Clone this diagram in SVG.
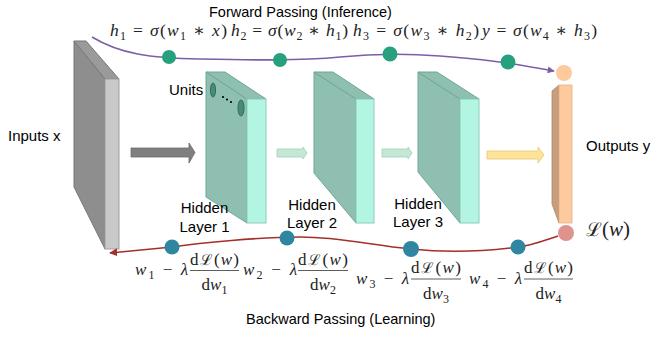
<svg xmlns="http://www.w3.org/2000/svg" width="652" height="337" viewBox="0 0 652 337">
<defs>
<marker id="arrP" viewBox="0 0 10 10" refX="9" refY="5" markerWidth="7" markerHeight="7" orient="auto" markerUnits="userSpaceOnUse"><path d="M0,0 L10,5 L0,10 z" fill="#7a5fa6"/></marker>
<marker id="arrR" viewBox="0 0 10 10" refX="9" refY="5" markerWidth="8" markerHeight="8" orient="auto" markerUnits="userSpaceOnUse"><path d="M0,0 L10,5 L0,10 z" fill="#a5302a"/></marker>
</defs>
<style>
.lbl{font-family:"Liberation Sans",Arial,sans-serif;font-size:15px;fill:#000}
.ttl{font-family:"Liberation Sans",Arial,sans-serif;font-size:14.5px;fill:#000}
.m{font-family:"Liberation Serif","DejaVu Serif",serif;font-size:17.5px;fill:#222}
.mb{font-family:"Liberation Serif","DejaVu Serif",serif;font-size:17px;fill:#222}
.i{font-style:italic}
.sub{font-size:12px}
.hs{fill:#8fbfb0;stroke:#6fa898;stroke-width:1}
.hf{fill:#b3f5e3;stroke:#8fc9b8;stroke-width:1}
.gc{fill:#27a07d}
.bc{fill:#2e86a0}
.fr{stroke:#333;stroke-width:0.8}
</style>

<g id="input-layer">
<polygon points="74,41 105,79 105,249 74,187" fill="#8e8e8e" stroke="#777" stroke-width="1"/>
<polygon points="74,41 86,41 119,79 105,79" fill="#9a9a9a" stroke="#777" stroke-width="1"/>
<rect x="105" y="79" width="14" height="170" fill="#c9c9c9" stroke="#a0a0a0" stroke-width="1"/>
<text class="lbl" x="8" y="141">Inputs x</text>
</g>

<g id="hidden-layer-1">
<polygon class="hs" points="206,72 247,99 247,223 206,197"/>
<polygon class="hs" points="206,72 225,72 266,99 247,99"/>
<rect class="hf" x="247" y="99" width="19" height="124"/>
<ellipse cx="213" cy="90" rx="2.6" ry="7" fill="#4a8a78" stroke="#2f6e5c" stroke-width="1"/>
<ellipse cx="241" cy="108" rx="3" ry="8" fill="#4a8a78" stroke="#2f6e5c" stroke-width="1"/>
<circle cx="223" cy="97" r="1.1" fill="#000"/>
<circle cx="227" cy="99.5" r="1.1" fill="#000"/>
<circle cx="231" cy="102" r="1.1" fill="#000"/>
<text class="lbl" x="169" y="95">Units</text>
<text class="lbl" x="204.5" y="213" text-anchor="middle">Hidden</text>
<text class="lbl" x="204.5" y="232" text-anchor="middle">Layer 1</text>
</g>

<g id="hidden-layer-2">
<polygon class="hs" points="314,72 356,99 356,223 314,173"/>
<polygon class="hs" points="314,72 333,72 374,99 356,99"/>
<rect class="hf" x="356" y="99" width="18" height="124"/>
<text class="lbl" x="312" y="210" text-anchor="middle">Hidden</text>
<text class="lbl" x="312" y="228" text-anchor="middle">Layer 2</text>
</g>

<g id="hidden-layer-3">
<polygon class="hs" points="418,72 460,99 460,223 418,172"/>
<polygon class="hs" points="418,72 437,72 479,99 460,99"/>
<rect class="hf" x="460" y="99" width="19" height="124"/>
<text class="lbl" x="418" y="209" text-anchor="middle">Hidden</text>
<text class="lbl" x="418" y="227" text-anchor="middle">Layer 3</text>
</g>

<g id="output-layer">
<polygon points="552,91 559,85 559,223 552,204" fill="#c89f7d" stroke="#b08868" stroke-width="0.8"/>
<rect x="559" y="85" width="13" height="138" fill="#fdca9e" stroke="#e0b08a" stroke-width="0.8"/>
<circle cx="564" cy="73" r="8" fill="#fdca9e"/>
<circle cx="566" cy="233" r="8" fill="#e0938c"/>
<text class="lbl" x="586" y="151">Outputs y</text>
<text class="m" x="586" y="236" style="font-size:21px"><tspan style="font-family:'DejaVu Serif',serif;font-size:19px">ℒ</tspan>(<tspan class="i">w</tspan>)</text>
</g>

<g id="connectors">
<polygon points="131,148 189,148 189,143 195,152.5 189,163 189,157 131,157" fill="#7f7f7f" stroke="#6d6d6d" stroke-width="0.8"/>
<polygon points="277,149 303,149 303,147 307,153 303,159 303,157 277,157" fill="#c5e8d6" stroke="#9fd2b8" stroke-width="0.8"/>
<polygon points="382,149 408,149 408,147 412,153 408,159 408,157 382,157" fill="#c5e8d6" stroke="#9fd2b8" stroke-width="0.8"/>
<polygon points="487,151 538,151 538,147 544,155 538,163 538,159 487,159" fill="#fde49a" stroke="#e8c870" stroke-width="0.8"/>
<path d="M92,37 C120,54 150,58 200,59 C250,60 300,61 340,57 C370,54 400,53 440,56 C480,59 505,62 554,71" fill="none" stroke="#7a5fa6" stroke-width="1.6" marker-end="url(#arrP)"/>
<path d="M558,236 C540,242 530,246 518,247 C480,252 440,252 411,249 C370,245 340,237 300,237 C260,237 200,243 172,247 L110,253" fill="none" stroke="#a5302a" stroke-width="1.6" marker-end="url(#arrR)"/>
<circle class="gc" cx="169" cy="57" r="7"/>
<circle class="gc" cx="280" cy="60" r="7"/>
<circle class="gc" cx="390" cy="54" r="7.5"/>
<circle class="gc" cx="508" cy="62" r="7.5"/>
<circle class="bc" cx="172" cy="247" r="7.5"/>
<circle class="bc" cx="287" cy="238" r="7.5"/>
<circle class="bc" cx="411" cy="249" r="8"/>
<circle class="bc" cx="518" cy="247" r="7.5"/>
</g>

<g id="forward-labels">
<text class="ttl" x="209" y="16.5">Forward Passing (Inference)</text>
<text class="m" x="110" y="36" textLength="117" lengthAdjust="spacing"><tspan class="i">h</tspan><tspan class="sub" dy="4">1</tspan><tspan dy="-4"> = </tspan><tspan class="i">σ</tspan>(<tspan class="i">w</tspan><tspan class="sub" dy="4">1</tspan><tspan dy="-4"> ∗ </tspan><tspan class="i">x</tspan>)</text>
<text class="m" x="231" y="36" textLength="117" lengthAdjust="spacing"><tspan class="i">h</tspan><tspan class="sub" dy="4">2</tspan><tspan dy="-4"> = </tspan><tspan class="i">σ</tspan>(<tspan class="i">w</tspan><tspan class="sub" dy="4">2</tspan><tspan dy="-4"> ∗ </tspan><tspan class="i">h</tspan><tspan class="sub" dy="4">1</tspan><tspan dy="-4">)</tspan></text>
<text class="m" x="353" y="36" textLength="126" lengthAdjust="spacing"><tspan class="i">h</tspan><tspan class="sub" dy="4">3</tspan><tspan dy="-4"> = </tspan><tspan class="i">σ</tspan>(<tspan class="i">w</tspan><tspan class="sub" dy="4">3</tspan><tspan dy="-4"> ∗ </tspan><tspan class="i">h</tspan><tspan class="sub" dy="4">2</tspan><tspan dy="-4">)</tspan></text>
<text class="m" x="482" y="36" textLength="115" lengthAdjust="spacing"><tspan class="i">y</tspan> = <tspan class="i">σ</tspan>(<tspan class="i">w</tspan><tspan class="sub" dy="4">4</tspan><tspan dy="-4"> ∗ </tspan><tspan class="i">h</tspan><tspan class="sub" dy="4">3</tspan><tspan dy="-4">)</tspan></text>
</g>

<g id="backward-labels">
<text class="ttl" x="246" y="324">Backward Passing (Learning)</text>
<text class="mb" x="135" y="275" textLength="53" lengthAdjust="spacing"><tspan class="i">w</tspan><tspan class="sub" dy="4">1</tspan><tspan dy="-4"> − </tspan><tspan class="i">λ</tspan></text>
<text class="mb" x="190" y="265" textLength="49" lengthAdjust="spacing">d<tspan style="font-family:'DejaVu Serif',serif;font-size:15px">ℒ</tspan>(<tspan class="i">w</tspan>)</text>
<line class="fr" x1="190" y1="270.5" x2="239" y2="270.5"/>
<text class="mb" x="214.5" y="290" text-anchor="middle">d<tspan class="i">w</tspan><tspan class="sub" dy="4">1</tspan></text>

<text class="mb" x="243" y="275" textLength="54" lengthAdjust="spacing"><tspan class="i">w</tspan><tspan class="sub" dy="4">2</tspan><tspan dy="-4"> − </tspan><tspan class="i">λ</tspan></text>
<text class="mb" x="298" y="265" textLength="50" lengthAdjust="spacing">d<tspan style="font-family:'DejaVu Serif',serif;font-size:15px">ℒ</tspan>(<tspan class="i">w</tspan>)</text>
<line class="fr" x1="298" y1="270.5" x2="348" y2="270.5"/>
<text class="mb" x="323" y="290" text-anchor="middle">d<tspan class="i">w</tspan><tspan class="sub" dy="4">2</tspan></text>

<text class="mb" x="356" y="284" textLength="53" lengthAdjust="spacing"><tspan class="i">w</tspan><tspan class="sub" dy="4">3</tspan><tspan dy="-4"> − </tspan><tspan class="i">λ</tspan></text>
<text class="mb" x="411" y="273" textLength="50" lengthAdjust="spacing">d<tspan style="font-family:'DejaVu Serif',serif;font-size:15px">ℒ</tspan>(<tspan class="i">w</tspan>)</text>
<line class="fr" x1="411" y1="279" x2="461" y2="279"/>
<text class="mb" x="436" y="299" text-anchor="middle">d<tspan class="i">w</tspan><tspan class="sub" dy="4">3</tspan></text>

<text class="mb" x="469" y="284" textLength="53" lengthAdjust="spacing"><tspan class="i">w</tspan><tspan class="sub" dy="4">4</tspan><tspan dy="-4"> − </tspan><tspan class="i">λ</tspan></text>
<text class="mb" x="524" y="273" textLength="49" lengthAdjust="spacing">d<tspan style="font-family:'DejaVu Serif',serif;font-size:15px">ℒ</tspan>(<tspan class="i">w</tspan>)</text>
<line class="fr" x1="524" y1="279" x2="573" y2="279"/>
<text class="mb" x="548.5" y="299" text-anchor="middle">d<tspan class="i">w</tspan><tspan class="sub" dy="4">4</tspan></text>
</g>
</svg>
